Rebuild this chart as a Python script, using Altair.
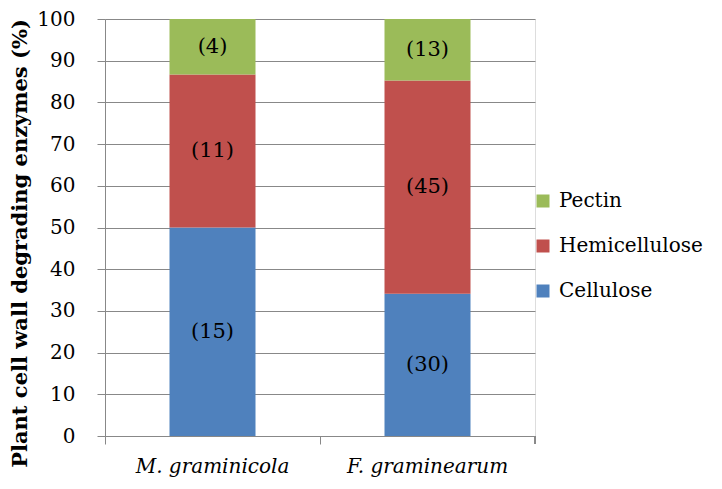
import altair as alt
import pandas as pd

species = ["M. graminicola"] * 3 + ["F. graminearum"] * 3
classes = ["Cellulose", "Hemicellulose", "Pectin"] * 2
counts = [15, 11, 4, 30, 45, 13]
stack_order = [0, 1, 2, 0, 1, 2]

legend_order = ["Pectin", "Hemicellulose", "Cellulose"]
legend_colors = ["#9BBB59", "#C0504D", "#4F81BD"]
species_order = ["M. graminicola", "F. graminearum"]

df = pd.DataFrame({"species": species, "cls": classes, "count": counts, "ord": stack_order})

FONT = "DejaVu Serif"
FS = 20

base = alt.Chart(df).transform_joinaggregate(
    total="sum(count)", groupby=["species"]
).transform_calculate(
    pct="datum.count / datum.total * 100",
    lab="'(' + datum.count + ')'"
).transform_window(
    cum="sum(pct)", groupby=["species"], sort=[alt.SortField("ord", order="ascending")],
    frame=[None, 0]
).transform_calculate(
    mid="datum.cum - datum.pct / 2"
)

x_enc = alt.X("species:N", sort=species_order, title=None,
              scale=alt.Scale(paddingInner=0, paddingOuter=0),
              axis=alt.Axis(labelFont=FONT, labelFontSize=FS, labelFontStyle="italic",
                            labelColor="black", labelAngle=0, labelPadding=12,
                            domainColor="#888888", tickColor="#888888", tickSize=8,
                            bandPosition=0, grid=False))

bars = base.mark_bar(size=86).encode(
    x=x_enc,
    y=alt.Y("pct:Q", stack="zero", title="Plant cell wall degrading enzymes (%)",
            scale=alt.Scale(domain=[0, 100], nice=False),
            axis=alt.Axis(values=list(range(0, 101, 10)), labelFont=FONT, labelFontSize=FS,
                          labelColor="black", labelPadding=22, tickSize=8,
                          tickColor="#888888", domainColor="#888888", gridColor="#888888",
                          gridWidth=1, titleFont=FONT, titleFontSize=21, titleFontWeight="bold",
                          titleColor="black", titleX=-85, titleY=224, titleAngle=-90,
                          titleAlign="center", titleBaseline="middle")),
    color=alt.Color("cls:N", scale=alt.Scale(domain=legend_order, range=legend_colors),
                    legend=alt.Legend(title=None, orient="none", legendX=428, legendY=172,
                                      labelFont=FONT, labelFontSize=FS, labelColor="black",
                                      symbolType="square", symbolSize=169, symbolStrokeWidth=0,
                                      rowPadding=25, labelOffset=6)),
    order=alt.Order("ord:Q", sort="ascending"),
)

texts = base.mark_text(font=FONT, fontSize=21, color="black").encode(
    x=alt.X("species:N", sort=species_order),
    y=alt.Y("mid:Q"),
    text="lab:N",
)

end_tick = alt.Chart(df).mark_rule(color="#888888").encode(
    x=alt.value(430), y=alt.value(417), y2=alt.value(425)
)

chart = alt.layer(bars, texts, end_tick).properties(
    width=430, height=417,
    autosize=alt.AutoSizeParams(type="none"),
    padding={"left": 97, "top": 11, "right": 179, "bottom": 45},
).configure_view(stroke=None).configure(background="white")

chart.save("out.html", embed_options={"renderer": "svg", "actions": False})
